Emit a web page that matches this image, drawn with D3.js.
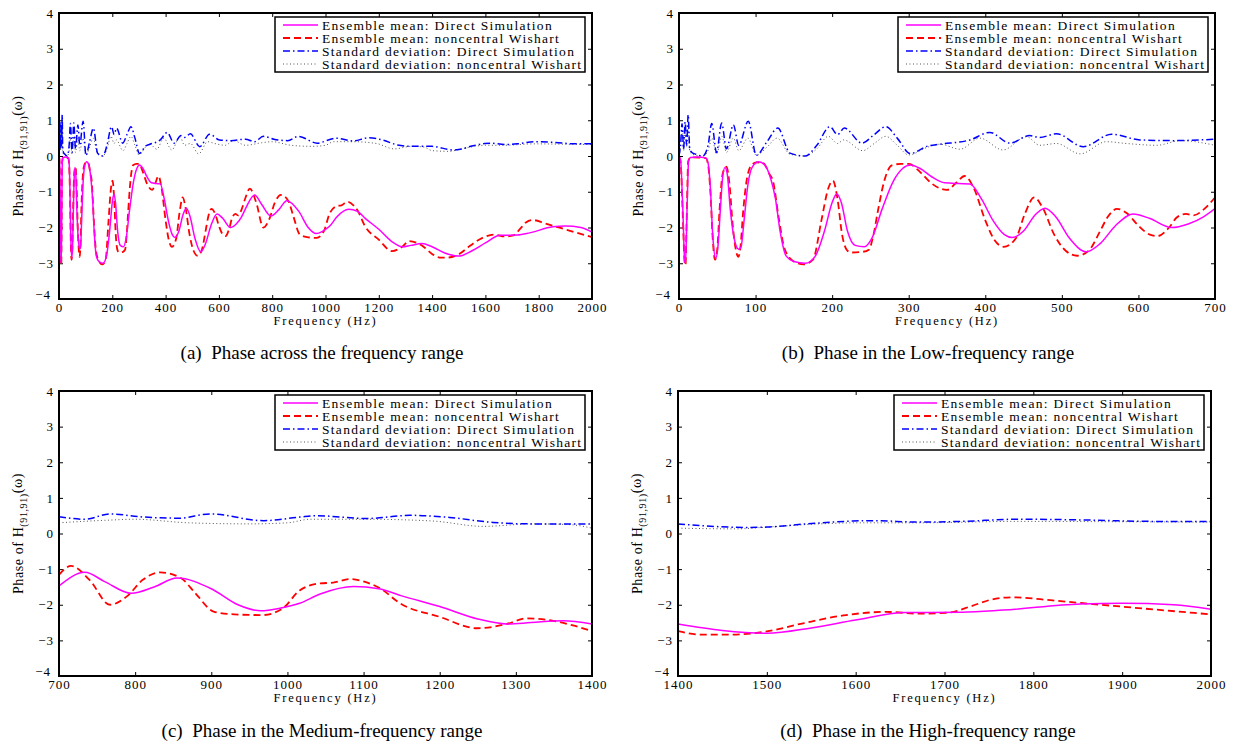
<!DOCTYPE html>
<meta charset="utf-8">
<title>Phase of H(91,91) - ensemble mean and standard deviation</title>
<style>
body { margin: 0; background: #fff; }
svg { display: block; }
.axis path { display: none; }
.axis line { stroke: #000; stroke-width: 1; }
.frame { fill: none; stroke: #000; stroke-width: 2; }
</style>
<svg width="1240" height="745"></svg>
<script src="https://d3js.org/d3.v7.min.js"></script>
<script>
// [frequency (Hz), phase]
var meanDirect = [
  [0,-0.02],[2,-0.1],[5,-1.5],[7.5,-2.95],[8.5,-3.0],[10.5,-1.5],[12.5,-0.15],[15,-0.04],
  [25,-0.03],[35,-0.06],[38,-0.2],[41,-0.9],[44,-2.2],[48,-2.86],[51,-2.5],[54,-1.5],
  [57,-0.6],[60,-0.32],[63,-0.5],[67,-1.5],[72,-2.3],[78,-2.61],[81,-2.55],[85,-1.8],
  [90,-0.8],[96,-0.3],[104,-0.16],[112,-0.25],[120,-0.65],[126,-1.2],[132,-2.1],
  [140,-2.8],[150,-2.95],[165,-3.0],[178,-2.8],[190,-2.1],[200,-1.3],[206,-1.06],
  [212,-1.3],[220,-2.1],[230,-2.5],[242,-2.54],[252,-2.3],[265,-1.5],[280,-0.7],
  [292,-0.35],[302,-0.25],[315,-0.35],[330,-0.58],[347,-0.75],[365,-0.77],[380,-0.78],
  [395,-1.2],[410,-1.8],[425,-2.2],[435,-2.28],[450,-2.1],[465,-1.65],[478,-1.46],
  [492,-1.7],[510,-2.3],[532,-2.68],[550,-2.45],[570,-1.95],[593,-1.62],[615,-1.75],
  [643,-2.0],[665,-1.9],[685,-1.7],[700,-1.47],[734,-1.09],[760,-1.35],[795,-1.68],
  [825,-1.5],[855,-1.25],[900,-1.55],[935,-2.0],[965,-2.17],[990,-2.1],[1016,-1.96],
  [1043,-1.7],[1087,-1.49],[1120,-1.55],[1150,-1.75],[1200,-2.05],[1250,-2.4],
  [1288,-2.54],[1320,-2.5],[1362,-2.45],[1400,-2.54],[1450,-2.72],[1500,-2.8],
  [1550,-2.65],[1600,-2.43],[1655,-2.22],[1720,-2.21],[1766,-2.15],[1853,-1.98],
  [1900,-1.96],[1958,-2.0],[2000,-2.13]
];
var meanWishart = [
  [0,-0.02],[2,-0.15],[5,-1.7],[7.5,-3.0],[8.5,-3.05],[10,-1.8],[12,-0.15],[15,-0.04],
  [35,-0.06],[38,-0.25],[41,-1.0],[44,-2.3],[47,-2.9],[50,-2.6],[53,-1.5],[57,-0.5],
  [62,-0.3],[66,-0.8],[70,-1.9],[75,-2.7],[77.5,-2.82],[80,-2.6],[84,-1.5],[89,-0.6],
  [95,-0.25],[101,-0.18],[110,-0.2],[118,-0.5],[123,-0.72],[130,-1.7],[138,-2.6],
  [150,-2.95],[163,-3.03],[175,-2.9],[186,-1.8],[195,-0.9],[201,-0.69],[207,-1.2],
  [213,-2.2],[220,-2.65],[226,-2.7],[240,-2.68],[248,-2.62],[254,-2.2],[260,-1.51],
  [268,-0.7],[278,-0.26],[290,-0.22],[300,-0.22],[315,-0.45],[330,-0.77],[350,-0.95],
  [362,-0.75],[373,-0.56],[385,-0.9],[400,-1.8],[412,-2.35],[424,-2.54],[440,-2.3],
  [452,-1.6],[464,-1.16],[475,-1.45],[490,-2.2],[505,-2.65],[520,-2.79],[535,-2.65],
  [550,-2.1],[560,-1.7],[572,-1.48],[585,-1.6],[600,-1.95],[615,-2.2],[625,-2.24],
  [640,-2.0],[650,-1.72],[662,-1.62],[672,-1.66],[685,-1.5],[700,-1.16],[716,-0.91],
  [740,-1.3],[767,-2.0],[790,-1.75],[810,-1.3],[833,-1.09],[860,-1.25],[880,-1.7],
  [903,-2.19],[930,-2.27],[967,-2.29],[994,-2.1],[1016,-1.6],[1043,-1.4],[1060,-1.38],
  [1082,-1.28],[1105,-1.38],[1121,-1.53],[1148,-1.96],[1200,-2.34],[1249,-2.66],
  [1288,-2.54],[1314,-2.38],[1349,-2.45],[1375,-2.58],[1400,-2.74],[1428,-2.84],
  [1458,-2.84],[1500,-2.75],[1541,-2.52],[1589,-2.29],[1634,-2.2],[1672,-2.25],
  [1705,-2.22],[1730,-2.04],[1752,-1.86],[1777,-1.79],[1822,-1.88],[1867,-1.98],
  [1935,-2.13],[2000,-2.27]
];
var stdDirect = [
  [0,0.0],[2,0.3],[4,0.9],[6,0.2],[8,0.95],[10,0.3],[12,1.15],[14,0.2],[17,0.1],
  [22,0.05],[31,0.0],[38,0.3],[42.7,0.91],[49,0.1],[55.7,0.92],[62,0.2],[71,0.87],
  [78,0.3],[90.5,0.97],[101,0.02],[115,0.4],[129,0.78],[145,0.08],[165,0.0],[180,0.3],
  [197,0.82],[207,0.6],[216,0.78],[239,0.36],[255,0.6],[270,0.82],[285,0.5],[302,0.07],
  [325,0.28],[341,0.33],[380,0.45],[406,0.66],[432,0.36],[458,0.57],[471,0.52],
  [493,0.62],[528,0.26],[565,0.61],[602,0.45],[645,0.43],[700,0.47],[734,0.4],
  [767,0.55],[806,0.47],[858,0.43],[898,0.55],[969,0.36],[1016,0.46],[1038,0.5],
  [1104,0.42],[1161,0.51],[1213,0.45],[1270,0.31],[1322,0.27],[1400,0.27],[1477,0.17],
  [1500,0.18],[1545,0.27],[1597,0.35],[1620,0.36],[1672,0.32],[1720,0.34],[1781,0.4],
  [1857,0.38],[1935,0.34],[2000,0.34]
];
var stdWishart = [
  [0,0.0],[2,0.25],[4,0.7],[6,0.15],[8,0.75],[10,0.25],[12,0.85],[14,0.15],[17,0.05],
  [31,0.0],[38,0.15],[43,0.5],[49,0.05],[56,0.55],[62,0.1],[71,0.5],[78,0.15],[90,0.5],
  [101,0.02],[115,0.25],[128,0.5],[145,0.05],[165,0.0],[180,0.2],[195,0.55],[207,0.35],
  [215,0.45],[240,0.15],[255,0.35],[270,0.55],[285,0.3],[300,0.03],[325,0.25],
  [341,0.33],[367,0.19],[393,0.5],[423,0.17],[454,0.54],[471,0.3],[493,0.35],[524,0.06],
  [558,0.4],[584,0.35],[624,0.3],[655,0.43],[700,0.3],[760,0.37],[800,0.4],[870,0.3],
  [950,0.27],[1000,0.3],[1030,0.4],[1104,0.4],[1191,0.35],[1257,0.2],[1322,0.27],
  [1370,0.25],[1400,0.15],[1466,0.13],[1500,0.18],[1560,0.27],[1600,0.3],[1672,0.3],
  [1781,0.34],[1900,0.33],[2000,0.32]
];

var legendLabels = [
  "Ensemble mean: Direct Simulation",
  "Ensemble mean: noncentral Wishart",
  "Standard deviation: Direct Simulation",
  "Standard deviation: noncentral Wishart"
];
var captions = [
  "(a)\u00a0\u00a0Phase across the frequency range",
  "(b)\u00a0\u00a0Phase in the Low-frequency range",
  "(c)\u00a0\u00a0Phase in the Medium-frequency range",
  "(d)\u00a0\u00a0Phase in the High-frequency range"
];
var xDomains = [[0, 2000], [0, 700], [700, 1400], [1400, 2000]];
var xSteps = [200, 100, 100, 100];
var yTicks = [-4, -3, -2, -1, 0, 1, 2, 3, 4];

var series = [meanDirect, meanWishart, stdDirect, stdWishart];
var styles = [
  {color: "#ff00ff", width: 1.5, dash: null},
  {color: "#ff0000", width: 1.8, dash: "7,4"},
  {color: "#0000ff", width: 1.5, dash: "7,3,1.5,3"},
  {color: "#555", width: 1, dash: "1,2.5"}
];

var serif = "'Liberation Serif', 'Times New Roman', serif";

// panel boxes on the page
var boxes = [
  {left: 59, top: 13, width: 533, height: 286, cx: 322, capY: 359},
  {left: 679, top: 13, width: 536, height: 286, cx: 928, capY: 359},
  {left: 59, top: 391, width: 533, height: 285, cx: 322, capY: 737},
  {left: 678, top: 391, width: 533, height: 285, cx: 928, capY: 737}
];

var svg = d3.select("svg");

function styleAxis(sel) {
  sel.attr("font-family", null).attr("font-size", null);
  sel.selectAll("text")
      .style("font-family", serif)
      .style("font-size", "13px")
      .style("letter-spacing", "1px")
      .attr("fill", "#000");
}

boxes.forEach(function(b, i) {
  var g = svg.append("g").attr("transform", "translate(" + b.left + "," + b.top + ")");
  var x = d3.scaleLinear().domain(xDomains[i]).range([0, b.width]);
  var y = d3.scaleLinear().domain([-4, 4]).range([b.height, 0]);
  var xt = d3.range(xDomains[i][0], xDomains[i][1] + 1, xSteps[i]);

  g.append("clipPath").attr("id", "clip" + i)
    .append("rect").attr("width", b.width).attr("height", b.height);

  // ticks on all four sides, pointing inwards
  g.append("g").attr("class", "axis")
      .attr("transform", "translate(0," + b.height + ")")
      .call(d3.axisBottom(x).tickValues(xt).tickSizeInner(-4).tickSizeOuter(0).tickPadding(4).tickFormat(d3.format("d")))
      .call(styleAxis);
  g.append("g").attr("class", "axis")
      .call(d3.axisTop(x).tickValues(xt).tickSizeInner(-4).tickSizeOuter(0).tickFormat(""));
  var ya = g.append("g").attr("class", "axis")
      .call(d3.axisLeft(y).tickValues(yTicks).tickSizeInner(-4).tickSizeOuter(0).tickPadding(5))
      .call(styleAxis);
  // the bottom label sits a little higher, clear of the first x label
  ya.selectAll(".tick").filter(function(d) { return d === -4; })
      .select("text").attr("dy", "-0.05em").attr("x", -8);
  g.append("g").attr("class", "axis")
      .attr("transform", "translate(" + b.width + ",0)")
      .call(d3.axisRight(y).tickValues(yTicks).tickSizeInner(-4).tickSizeOuter(0).tickFormat(""));

  var line = d3.line()
      .x(function(d) { return x(d[0]); })
      .y(function(d) { return y(d[1]); })
      .curve(d3.curveMonotoneX);

  var plot = g.append("g").attr("clip-path", "url(#clip" + i + ")");
  // draw std first so means sit on top
  [3, 2, 1, 0].forEach(function(k) {
    var s = styles[k];
    var lo = xDomains[i][0], hi = xDomains[i][1];
    plot.append("path")
        .datum(series[k].filter(function(d, j, a) {
          var prev = a[j - 1], next = a[j + 1];
          return (d[0] >= lo && d[0] <= hi) || (next && next[0] > lo && d[0] < lo) || (prev && prev[0] < hi && d[0] > hi);
        }))
        .attr("fill", "none")
        .attr("stroke", s.color)
        .attr("stroke-width", s.width)
        .attr("stroke-dasharray", s.dash)
        .attr("d", line);
  });

  g.append("rect").attr("class", "frame").attr("width", b.width).attr("height", b.height);

  // legend
  var lg = g.append("g").attr("transform", "translate(" + (b.width - 317) + ",4)");
  lg.append("rect").attr("width", 310).attr("height", 55)
      .attr("fill", "#fff").attr("stroke", "#000").attr("stroke-width", 1.5);
  legendLabels.forEach(function(t, k) {
    var yy = 8 + k * 13;
    lg.append("line").attr("x1", 8).attr("x2", 43).attr("y1", yy).attr("y2", yy)
        .attr("stroke", styles[k].color).attr("stroke-width", styles[k].width)
        .attr("stroke-dasharray", styles[k].dash);
    lg.append("text").attr("x", 47).attr("y", yy).attr("dy", "0.35em")
        .style("font-family", serif)
        .style("font-size", "13.5px").style("letter-spacing", "1.3px").text(t);
  });

  // axis titles
  g.append("text")
      .attr("x", b.width / 2).attr("y", b.height + 26)
      .attr("text-anchor", "middle")
      .style("font-family", serif)
      .style("font-size", "12.5px").style("letter-spacing", "1.8px")
      .text("Frequency (Hz)");

  var yl = g.append("text")
      .attr("transform", "translate(" + (-36) + "," + (b.height / 2) + ") rotate(-90)")
      .attr("text-anchor", "middle")
      .style("font-family", serif)
      .style("font-size", "14px").style("letter-spacing", "0.6px");
  yl.append("tspan").text("Phase of H");
  yl.append("tspan").attr("dy", 4).style("font-size", "10px").text("(91,91)");
  yl.append("tspan").attr("dy", -5).text("(\u03c9)");

  svg.append("text")
      .attr("x", b.cx).attr("y", b.capY)
      .attr("text-anchor", "middle")
      .style("font-family", serif)
      .style("font-size", "19px")
      .text(captions[i]);
});
</script>
